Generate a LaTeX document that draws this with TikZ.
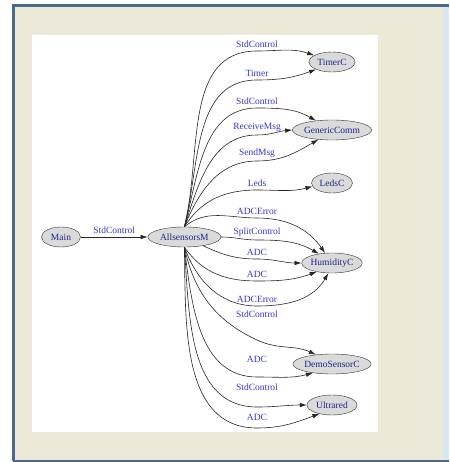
\documentclass[tikz,border=0pt]{standalone}
\usepackage{fontspec}
\setmainfont{Liberation Serif}
\usepackage{tikz}
\usetikzlibrary{positioning, shapes.geometric, arrows.meta}

\definecolor{winbg}{HTML}{ECE9D8}
\definecolor{frameblue}{HTML}{4A6A8C}
\definecolor{edgeband}{HTML}{DCE6EE}
\definecolor{nodegray}{HTML}{DADADA}
\definecolor{nodetext}{HTML}{222288}
\definecolor{lblblue}{HTML}{3333DD}

\begin{document}
\begin{tikzpicture}[x=1pt,y=1pt]

	\tikzset{comp/.style={
			ellipse,
			draw=black!80,
			fill=nodegray,
			text=nodetext,
			minimum height=20pt,
			minimum width=#1,
			inner sep=0pt,
			font=\fontsize{9.5}{10}\selectfont
		},
		comp/.default=50pt,
		wire/.style={draw=black!85, line width=0.6pt, -{Latex[length=7pt,width=4.5pt]}},
		lbl/.style={above=2pt, inner sep=1pt, text=lblblue, font=\fontsize{9.5}{10}\selectfont}
	}

	% window frame
	\useasboundingbox (0,0) rectangle (449,-462);
	\fill[winbg] (13,-5) rectangle (449,-461);
	\fill[edgeband] (443,-7) rectangle (449,-459);
	\draw[frameblue, line width=2.5pt] (13.5,-460.5) -- (13.5,-5.5) -- (449,-5.5);
	\draw[frameblue, line width=2pt] (13,-461) -- (449,-461);
	\fill[white] (32,-35) rectangle (378,-432);

	% components
	\node[comp=39pt] (main) at (61,-237) {Main};
	\node[comp=73pt, right=67pt of main] (as) {AllsensorsM};
	\node[comp=46pt] (tc) at (332,-62) {TimerC};
	\node[comp=75pt] (gc) at (332,-130) {GenericComm};
	\node[comp=41pt] (ld) at (332,-183) {LedsC};
	\node[comp=60pt] (hu) at (332,-263) {HumidityC};
	\node[comp=75pt] (ds) at (332,-364) {DemoSensorC};
	\node[comp=50pt] (ur) at (332,-405) {Ultrared};

	% wiring
	\draw[wire] (main) -- node[lbl]{StdControl} (as);

	\draw[wire] (as.north) to[out=76,in=180] (257,-51) node[lbl]{StdControl} to[out=0,in=160] (tc.160);
	\draw[wire] (as.north) to[out=76,in=180] (257,-80) node[lbl]{Timer} to[out=0,in=200] (tc.205);

	\draw[wire] (as.north) to[out=75,in=180] (257,-108) node[lbl]{StdControl} to[out=0,in=150] (gc.150);
	\draw[wire] (as.north) to[out=72,in=180] (257,-135) node[lbl]{ReceiveMsg} to[out=0,in=185] (gc.west);
	\draw[wire] (as.north) to[out=68,in=180] (257,-161) node[lbl]{SendMsg} to[out=0,in=210] (gc.215);

	\draw[wire] (as.north) to[out=58,in=180] (257,-190) node[lbl]{Leds} to[out=0,in=195] (ld.190);

	\draw[wire] (as.north) to[out=40,in=180] (257,-218) node[lbl]{ADCError} to[out=0,in=125] (hu.125);
	\draw[wire] (as.east) to[out=0,in=180] (257,-240) node[lbl]{SplitControl} to[out=0,in=150] (hu.145);
	\draw[wire] (as.-25) to[out=-25,in=180] (257,-259) node[lbl]{ADC} to[out=0,in=180] (hu.west);
	\draw[wire] (as.south) to[out=-55,in=180] (257,-281) node[lbl]{ADC} to[out=0,in=200] (hu.210);
	\draw[wire] (as.south) to[out=-70,in=180] (257,-306) node[lbl]{ADCError} to[out=0,in=240] (hu.250);

	\draw[wire] (as.south) to[out=-78,in=155] (257,-340) node[lbl, above=21pt]{StdControl} to[out=-25,in=155] (ds.150);
	\draw[wire] (as.south) to[out=-83,in=180] (257,-377) node[lbl, above=13pt]{ADC} to[out=0,in=195] (ds.205);

	\draw[wire] (as.south) to[out=-86,in=180] (257,-407) node[lbl, above=15pt]{StdControl} to[out=0,in=180] (ur.west);
	\draw[wire] (as.south) to[out=-89,in=180] (257,-428) node[lbl, above=6pt]{ADC} to[out=0,in=200] (ur.215);

\end{tikzpicture}
\end{document}
